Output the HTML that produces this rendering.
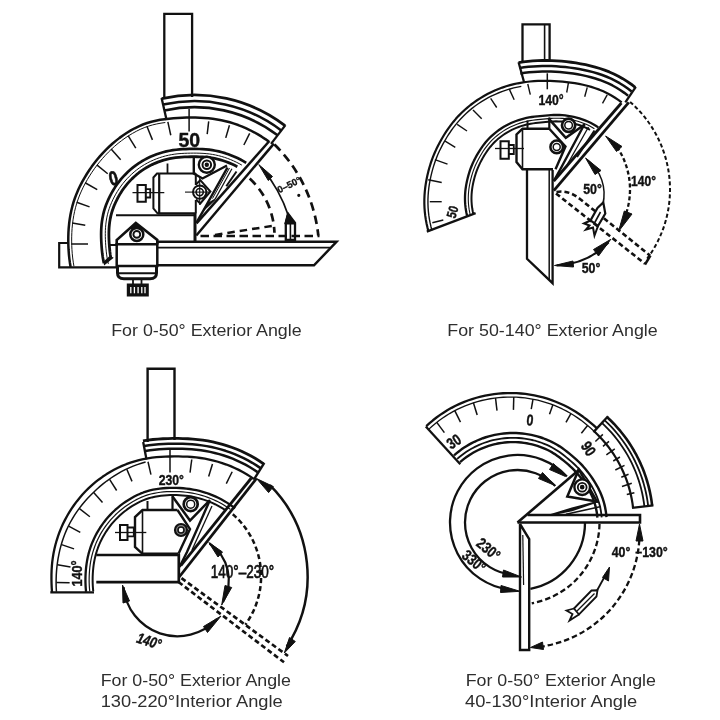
<!DOCTYPE html>
<html lang="en"><head><meta charset="utf-8"><title>Protractor angle diagrams</title>
<style>
html,body{margin:0;padding:0;background:#fff;}
body{width:720px;height:720px;overflow:hidden;font-family:"Liberation Sans",sans-serif;}
svg{display:block;}
</style></head>
<body>
<svg width="720" height="720" viewBox="0 0 720 720" fill="none" stroke="#111" stroke-linecap="butt" stroke-linejoin="miter" style="filter:blur(0.45px)">
<rect x="0" y="0" width="720" height="720" fill="#fff" stroke="none"/>
<g id="d1">
<path d="M164.3 98L164.3 13.8L192.1 13.8L192.1 97" stroke-width="2.3" />
<path d="M161.74 98.65 A149 149 0 0 1 285 125.63" stroke-width="2.8" />
<path d="M163.08 104.6 A142.9 142.9 0 0 1 281.29 130.48" stroke-width="2.6" />
<path d="M164.43 110.55 A136.8 136.8 0 0 1 277.59 135.32" stroke-width="2.6" />
<path d="M166.58 120.11L161.59 97.96" stroke-width="2.3" />
<path d="M271.03 143.9L285.42 125.08" stroke-width="2.3" />
<path d="M70.61 266.96L69.89 262.67L69.31 258.36L68.87 254.03L68.56 249.69L68.36 245.34L68.27 240.98L68.3 236.62L68.44 232.25L68.72 227.88L69.14 223.51L69.71 219.15L70.44 214.81L71.32 210.49L72.38 206.21L73.61 201.96L75.02 197.77L76.6 193.64L78.35 189.57L80.25 185.57L82.3 181.64L84.48 177.78L86.78 173.98L89.2 170.27L91.73 166.62L94.39 163.05L97.15 159.57L100.02 156.16L103 152.85L106.1 149.63L109.31 146.52L112.63 143.52L116.06 140.64L119.59 137.88L123.23 135.25L126.97 132.77L130.81 130.43L134.75 128.26L138.79 126.29L142.93 124.52L147.15 123L151.46 121.72L155.82 120.68L160.22 119.85L164.63 119.18L169.05 118.66L173.46 118.25L177.86 117.94L182.24 117.73L186.62 117.6L191 117.55L195.36 117.58L199.73 117.7L204.09 117.93L208.44 118.28L212.78 118.77L217.1 119.41L221.4 120.21L225.67 121.18L229.89 122.31L234.08 123.6L238.21 125.04L242.28 126.64L246.29 128.38L250.24 130.26L254.12 132.27L257.93 134.42L261.67 136.69L265.32 139.09L268.89 141.62" stroke-width="2.5" stroke-linejoin="round" />
<path d="M73.95 266.34L73.25 262.17L72.69 257.98L72.26 253.77L71.95 249.55L71.76 245.31L71.67 241.08L71.69 236.83L71.83 232.58L72.09 228.33L72.5 224.08L73.04 219.84L73.74 215.62L74.6 211.41L75.62 207.24L76.81 203.11L78.18 199.03L79.71 195.01L81.41 191.05L83.26 187.16L85.25 183.33L87.37 179.57L89.6 175.88L91.95 172.26L94.42 168.71L97 165.23L99.68 161.84L102.47 158.52L105.37 155.29L108.38 152.16L111.5 149.12L114.72 146.2L118.06 143.39L121.5 140.7L125.03 138.14L128.67 135.72L132.41 133.44L136.24 131.32L140.17 129.39L144.2 127.68L148.31 126.19L152.5 124.95L156.75 123.94L161.03 123.14L165.33 122.5" stroke-width="1" stroke-linejoin="round" />
<path d="M103.9 263.26L103.26 260.12L102.73 256.97L102.3 253.8L101.95 250.62L101.67 247.42L101.45 244.21L101.27 241L101.16 237.76L101.12 234.51L101.16 231.25L101.31 227.97L101.57 224.7L101.95 221.42L102.47 218.15L103.12 214.89L103.91 211.66L104.85 208.46L105.94 205.3L107.16 202.19L108.5 199.12L109.96 196.1L111.53 193.13L113.21 190.21L114.99 187.35L116.89 184.56L118.9 181.84L121.02 179.21L123.25 176.66L125.57 174.2L127.99 171.83L130.5 169.55L133.1 167.38L135.79 165.31L138.56 163.36L141.42 161.54L144.35 159.85L147.34 158.28L150.39 156.83L153.49 155.49L156.63 154.28L159.82 153.2L163.04 152.25L166.29 151.43L169.56 150.74L172.85 150.18L176.15 149.75L179.46 149.42L182.76 149.2L186.06 149.05L189.35 148.97L192.63 148.93L195.92 148.93L199.2 148.99L202.48 149.13L205.76 149.35L209.04 149.68L212.31 150.13L215.56 150.71L218.79 151.4L221.99 152.22L225.17 153.16L228.31 154.22L231.4 155.39L234.46 156.67L237.47 158.06L240.44 159.55L243.35 161.15L246.2 162.85" stroke-width="2.7" stroke-linejoin="round" />
<path d="M108.36 263.89L107.7 260.92L107.14 257.93L106.68 254.92L106.3 251.9L106 248.87L105.75 245.82L105.56 242.77L105.41 239.7L105.32 236.61L105.3 233.51L105.37 230.4L105.54 227.28L105.83 224.15L106.23 221.03L106.76 217.91L107.42 214.82L108.23 211.75L109.18 208.71L110.26 205.72L111.47 202.76L112.79 199.85L114.22 196.99L115.75 194.17L117.39 191.41L119.13 188.71L120.98 186.07L122.93 183.5L124.99 181.02L127.15 178.62L129.4 176.31L131.74 174.08L134.16 171.94L136.67 169.91L139.27 167.98L141.94 166.17L144.69 164.48L147.51 162.91L150.39 161.45L153.32 160.12L156.29 158.89L159.31 157.79L162.36 156.8L165.44 155.95L168.55 155.22L171.68 154.61L174.82 154.13L177.97 153.76L181.12 153.5L184.26 153.32L187.4 153.21L190.53 153.15L193.66 153.12L196.79 153.14L199.91 153.22L203.04 153.36L206.17 153.6L209.29 153.94L212.39 154.4L215.49 154.97L218.56 155.66L221.6 156.47L224.62 157.39L227.6 158.43L230.54 159.57L233.45 160.81L236.31 162.16L239.12 163.6L241.88 165.15" stroke-width="1" stroke-linejoin="round" />
<path d="M110.68 257.28L110.24 254.39L109.88 251.5L109.59 248.59L109.35 245.67L109.15 242.74L109 239.8L108.9 236.84L108.88 233.86L108.93 230.87L109.08 227.87L109.35 224.87L109.72 221.87L110.22 218.88L110.85 215.9L111.62 212.95L112.52 210.03L113.56 207.15L114.72 204.31L115.98 201.52L117.35 198.77L118.82 196.06L120.39 193.4L122.06 190.8L123.83 188.26L125.7 185.8L127.68 183.41L129.75 181.11L131.92 178.88L134.16 176.74L136.5 174.68L138.91 172.73L141.4 170.87L143.97 169.14L146.62 167.52L149.33 166.01L152.1 164.62L154.92 163.34L157.78 162.17L160.68 161.12L163.61 160.18L166.57 159.37L169.56 158.67L172.57 158.1L175.59 157.65L178.61 157.3L181.64 157.06L184.66 156.9L187.67 156.8L190.68 156.74L193.68 156.72L196.68 156.74L199.68 156.81L202.68 156.95L205.68 157.17L208.68 157.49L211.66 157.93L214.63 158.47L217.58 159.13L220.51 159.9L223.4 160.78L226.27 161.77L229.09 162.87L231.88 164.06L234.63 165.35L237.33 166.73" stroke-width="2.8" stroke-linejoin="round" />
<path d="M110 256.5L112.6 257.8L104.5 264.5L104 262Z" stroke-width="1.2" fill="#111"/>
<path d="M88 244L71.32 244" stroke-width="1.5" />
<path d="M85.26 225.23L72.22 222.99" stroke-width="1.5" />
<path d="M89.58 206.84L76.65 202.27" stroke-width="1.5" />
<path d="M97.23 189.53L85.11 182.74" stroke-width="1.5" />
<path d="M107.71 173.72L96.78 164.86" stroke-width="1.5" />
<path d="M120.64 159.77L111.12 148.93" stroke-width="1.5" />
<path d="M135.79 148.2L128.08 135.62" stroke-width="1.5" />
<path d="M152.43 139.87L146.92 126.24" stroke-width="1.5" />
<path d="M170.78 135.22L167.85 121.79" stroke-width="1.5" />
<path d="M207.21 134.18L208.7 121.31" stroke-width="1.5" />
<path d="M225.75 137.84L229.44 125.3" stroke-width="1.5" />
<path d="M243.86 144.99L249.68 133.33" stroke-width="1.5" />
<path d="M189.1 109L189.1 131.5" stroke-width="1.5" />
<text x="189.3" y="146.6" font-size="19.5" font-weight="bold" text-anchor="middle" font-family='"Liberation Sans", sans-serif' stroke="#111" stroke-width="0.4" fill="#111" >50</text>
<g transform="translate(113.3 178.2) rotate(-14) scale(0.8 1)"><text x="0" y="7" font-size="20" font-weight="bold" text-anchor="middle" font-family='"Liberation Sans", sans-serif' fill="#111" stroke="#111" stroke-width="0.7">0</text></g>
<path d="M196.3 235.5L273.9 143.6" stroke-width="2.5" />
<path d="M196.5 223.3L269.4 141" stroke-width="2.5" />
<path d="M69 243L59.2 243L59.2 267.3L117 267.3" stroke-width="2.2" />
<path d="M110 245L117 245" stroke-width="2" />
<path d="M157 241.8L336.5 241.8L314 265.3L157 265.3" stroke-width="2.5" />
<path d="M157 247.7L330 247.7" stroke-width="1.8" />
<path d="M116 215.2L195 215.2" stroke-width="2" />
<path d="M195 213L195 241.5" stroke-width="3" />
<path d="M159.2 173.5L195.8 173.5" stroke-width="2.2" />
<path d="M159.2 173.5L159.2 213.3L195.8 213.3" stroke-width="2.2" />
<path d="M159.2 173.5L157 173.5L153.4 177.5L153.4 208.5L157.5 213.3L159.2 213.3" stroke-width="2" />
<path d="M167.5 163.5L167.5 173.5" stroke-width="1.8" />
<path d="M137.5 185L145.8 185L145.8 201.7L137.5 201.7Z" stroke-width="2" />
<path d="M145.8 189.2L150.2 189.2L150.2 197.5L145.8 197.5" stroke-width="1.8" />
<path d="M132.5 192.6L164.3 192.6" stroke-width="1.3" />
<circle cx="199.7" cy="192.1" r="6.7" stroke-width="2" />
<circle cx="199.7" cy="192.1" r="3.6" stroke-width="1.6" />
<path d="M185 192.1L210 192.1" stroke-width="1.1" />
<path d="M199.7 177L199.7 205" stroke-width="1.1" />
<path d="M195.8 184.5L200.3 180.2L210.4 191.5L200.3 203.5L196 199.5" stroke-width="2" />
<path d="M195.8 173.5L195.8 185" stroke-width="2" />
<path d="M195.8 200L195.8 213.3" stroke-width="2" />
<path d="M193.8 157L193.8 173.5L202.5 178.5L227 165.5" stroke-width="2.4" />
<circle cx="206.8" cy="164.8" r="8" stroke-width="2.4" fill="#fff"/>
<circle cx="206.8" cy="164.8" r="4.3" stroke-width="2" />
<circle cx="206.8" cy="164.8" r="1.4" stroke-width="1.6" fill="#111"/>
<path d="M196.5 222.5L203.7 210L227.5 167.5" stroke-width="2.5" />
<path d="M203.7 210L215 199.4L209 203Z" stroke-width="1.5" fill="#111"/>
<path d="M215 199.4L231.9 168.8" stroke-width="1.2" />
<path d="M212.5 198.5L229.5 168" stroke-width="1" />
<path d="M226.3 186.3L236.5 171.5" stroke-width="2" />
<path d="M116.7 244.5L116.7 240L135.8 223L157.3 240L157.3 244.5" stroke-width="2.6" fill="#fff"/>
<path d="M130.5 228.5L135.8 223.3L142.5 228.5Z" stroke-width="1" fill="#111"/>
<circle cx="136.8" cy="234.4" r="6.5" stroke-width="2.5" fill="#fff"/>
<circle cx="136.8" cy="234.4" r="3.4" stroke-width="1.9" fill="#fff"/>
<path d="M116.7 244.3L157.3 244.3L157.3 266L116.7 266Z" stroke-width="2.5" />
<path d="M117.5 266 L117.5 273 Q117.5 278.8 124 278.8 L150 278.8 Q156.5 278.8 156.5 273 L156.5 266" stroke-width="3"/>
<path d="M117.5 273.2L156.5 273.2" stroke-width="2" />
<path d="M133 280L133 284" stroke-width="1.8" />
<path d="M141.5 280L141.5 284" stroke-width="1.8" />
<path d="M127.8 284.6L147.8 284.6L147.8 295.6L127.8 295.6Z" stroke-width="2" fill="#111"/>
<path d="M130.8 287L130.8 293.3" stroke-width="1.3" stroke="#fff"/>
<path d="M134.4 287L134.4 293.3" stroke-width="1.3" stroke="#fff"/>
<path d="M138.1 287L138.1 293.3" stroke-width="1.3" stroke="#fff"/>
<path d="M141.8 287L141.8 293.3" stroke-width="1.3" stroke="#fff"/>
<path d="M145 287L145 293.3" stroke-width="1.3" stroke="#fff"/>
<path d="M274.5 144.5 A149.18 149.18 0 0 1 318.3 235.5" stroke-width="2.7" stroke-dasharray="8.5 5.3"/>
<path d="M249.7 178.45 A78 78 0 0 1 274.45 232.78" stroke-width="2.7" stroke-dasharray="8.5 5.3"/>
<path d="M200.5 236L319.5 236" stroke-width="2.7" stroke-dasharray="8.5 4.5"/>
<path d="M215 235L274.5 225.5" stroke-width="2.5" stroke-dasharray="7.5 5"/>
<path d="M262 168 A147.39 147.39 0 0 1 288.5 216" stroke-width="1.7" />
<path d="M258.8 164.6L272.5 176.5L268.3 180.5Z" stroke-width="1" fill="#111"/>
<path d="M288.3 214L285.8 223L285.8 240L295 240L295 223Z" stroke-width="2.3" />
<path d="M290.4 224L290.4 240" stroke-width="1.6" />
<path d="M287.6 212.5L284.8 224L295.5 224Z" stroke-width="1" fill="#111"/>
<text x="290.5" y="187.8" font-size="9.5" font-weight="bold" text-anchor="middle" font-family='"Liberation Sans", sans-serif' fill="#111" transform="rotate(-26 290.5 187.8)" stroke="#111" stroke-width="0.3">0–50°</text>
<circle cx="298.8" cy="195.3" r="1" stroke-width="1.2" fill="#111"/>
</g>
<g id="d2">
<path d="M522.5 63L522.5 24.3L549.6 24.3L549.6 61" stroke-width="2.3" />
<path d="M544.6 24.3L544.6 61" stroke-width="1.6" />
<path d="M518.58 62.54L523.3 61.84L528.04 61.3L532.8 60.9L537.57 60.64L542.34 60.51L547.13 60.51L551.92 60.63L556.71 60.87L561.51 61.22L566.31 61.68L571.12 62.25L575.94 62.94L580.75 63.76L585.57 64.71L590.37 65.81L595.16 67.07L599.92 68.49L604.64 70.1L609.31 71.92L613.9 73.94L618.4 76.2L622.78 78.67L627.05 81.35L631.2 84.23L635.21 87.3" stroke-width="2.8" stroke-linejoin="round" />
<path d="M519.47 67.97L524.01 67.3L528.56 66.77L533.13 66.39L537.7 66.14L542.29 66.01L546.88 66.01L551.48 66.12L556.09 66.33L560.69 66.66L565.31 67.09L569.93 67.62L574.56 68.27L579.19 69.03L583.82 69.93L588.45 70.96L593.06 72.15L597.64 73.5L602.19 75.03L606.69 76.75L611.11 78.69L615.45 80.84L619.67 83.21L623.79 85.78L627.78 88.54L631.65 91.49" stroke-width="2.5" stroke-linejoin="round" />
<path d="M520.37 73.4L524.72 72.75L529.08 72.25L533.45 71.88L537.84 71.64L542.24 71.51L546.64 71.5L551.05 71.6L555.46 71.8L559.88 72.1L564.31 72.5L568.74 72.99L573.18 73.59L577.63 74.31L582.08 75.14L586.52 76.12L590.95 77.23L595.37 78.5L599.74 79.95L604.07 81.59L608.33 83.43L612.5 85.48L616.56 87.74L620.52 90.2L624.36 92.85L628.08 95.68" stroke-width="2.5" stroke-linejoin="round" />
<path d="M518.6 62.3L524 82" stroke-width="2.3" />
<path d="M635.8 86.8L625.3 102.3" stroke-width="2.3" />
<path d="M428.52 231.53L427.48 227.6L426.59 223.64L425.83 219.65L425.23 215.64L424.78 211.61L424.48 207.57L424.34 203.53L424.35 199.49L424.51 195.45L424.82 191.43L425.26 187.42L425.84 183.44L426.54 179.48L427.36 175.55L428.29 171.65L429.34 167.79L430.5 163.95L431.78 160.16L433.19 156.42L434.72 152.72L436.37 149.08L438.13 145.49L439.99 141.95L441.95 138.46L444.01 135.02L446.16 131.65L448.42 128.33L450.79 125.09L453.26 121.92L455.86 118.84L458.57 115.86L461.39 112.98L464.32 110.21L467.36 107.55L470.49 105L473.72 102.57L477.04 100.26L480.44 98.07L483.91 95.99L487.46 94.05L491.08 92.23L494.77 90.55L498.51 89L502.3 87.59L506.15 86.31L510.04 85.17L513.96 84.17L517.92 83.3L521.9 82.57L525.91 81.98L529.93 81.51L533.97 81.17L538.02 80.94L542.07 80.82L546.13 80.79L550.2 80.87L554.28 81.03L558.36 81.29L562.45 81.63L566.55 82.05L570.66 82.57L574.78 83.19L578.9 83.92L583.02 84.77L587.14 85.76L591.24 86.89L595.31 88.18L599.34 89.65L603.3 91.3L607.18 93.16L610.98 95.22L614.67 97.47L618.25 99.9L621.71 102.49" stroke-width="2.2" stroke-linejoin="round" />
<path d="M431.97 230.5L430.97 226.72L430.11 222.9L429.39 219.06L428.8 215.2L428.37 211.32L428.08 207.43L427.94 203.53L427.94 199.64L428.1 195.75L428.39 191.87L428.81 188.02L429.36 184.18L430.03 180.37L430.82 176.58L431.71 172.83L432.71 169.1L433.82 165.41L435.04 161.75L436.38 158.14L437.84 154.58L439.42 151.06L441.1 147.6L442.88 144.18L444.75 140.82L446.71 137.5L448.77 134.24L450.92 131.03L453.18 127.89L455.54 124.83L458.02 121.85L460.6 118.95L463.29 116.16L466.09 113.46L469 110.87L472 108.4L475.09 106.03L478.26 103.78L481.52 101.64L484.85 99.61L488.25 97.71L491.72 95.92L495.25 94.27L498.84 92.74L502.48 91.35L506.17 90.08L509.91 88.95L513.68 87.94L517.48 87.07L521.31 86.32" stroke-width="1.4" stroke-linejoin="round" />
<path d="M426.8 231.6L475.6 213.2" stroke-width="2.3" />
<path d="M467.05 215.7L466.46 213.04L465.96 210.35L465.57 207.65L465.27 204.94L465.08 202.23L464.99 199.51L465 196.8L465.11 194.09L465.32 191.39L465.62 188.71L466.02 186.05L466.49 183.4L467.04 180.78L467.65 178.17L468.33 175.59L469.08 173.02L469.91 170.48L470.81 167.97L471.79 165.49L472.86 163.05L473.99 160.63L475.2 158.25L476.46 155.9L477.79 153.59L479.17 151.3L480.62 149.05L482.15 146.84L483.74 144.68L485.42 142.58L487.18 140.53L489.01 138.56L490.92 136.65L492.91 134.82L494.97 133.07L497.1 131.39L499.28 129.8L501.53 128.28L503.83 126.84L506.18 125.49L508.58 124.23L511.03 123.05L513.52 121.97L516.05 120.99L518.62 120.09L521.21 119.29L523.84 118.58L526.48 117.96L529.15 117.44L531.83 117L534.52 116.64L537.22 116.34L539.93 116.08L542.65 115.83L545.39 115.59L548.15 115.36L550.93 115.16L553.74 115.02L556.57 114.96L559.42 115.01L562.28 115.16L565.15 115.43L568.02 115.81L570.88 116.29L573.74 116.89L576.6 117.6L579.43 118.41L582.25 119.33L585.05 120.36L587.81 121.51L590.54 122.78L593.2 124.18L595.8 125.72L598.3 127.41" stroke-width="2.3" stroke-linejoin="round" />
<path d="M470.23 214.82L469.66 212.25L469.19 209.67L468.82 207.07L468.54 204.46L468.36 201.86L468.28 199.24L468.3 196.64L468.41 194.04L468.63 191.45L468.93 188.87L469.31 186.31L469.78 183.77L470.31 181.25L470.91 178.75L471.57 176.27L472.29 173.81L473.09 171.37L473.96 168.96L474.91 166.58L475.94 164.24L477.04 161.92L478.2 159.64L479.42 157.39L480.69 155.16L482.02 152.96L483.42 150.8L484.88 148.68L486.42 146.61L488.03 144.59L489.72 142.63L491.49 140.73L493.33 138.91L495.25 137.15L497.23 135.48L499.28 133.87L501.39 132.35L503.56 130.9L505.77 129.53L508.04 128.24L510.35 127.03L512.71 125.92L515.11 124.89L517.55 123.95L520.02 123.11L522.52 122.35L525.04 121.68L527.58 121.1L530.15 120.61L532.73 120.2L535.32 119.87L537.91 119.59L540.52 119.33L543.14 119.09L545.77 118.84L548.43 118.61L551.12 118.41L553.83 118.27L556.56 118.21L559.31 118.26L562.07 118.41L564.83 118.67L567.6 119.04L570.37 119.51L573.13 120.09L575.88 120.78L578.62 121.57L581.34 122.47L584.04 123.48L586.71 124.6L589.33 125.84L591.9 127.21L594.39 128.73" stroke-width="1.1" stroke-linejoin="round" />
<path d="M473.31 213.96L472.77 211.5L472.33 209.02L471.97 206.54L471.71 204.04L471.54 201.54L471.47 199.04L471.5 196.55L471.61 194.06L471.82 191.58L472.12 189.12L472.49 186.67L472.94 184.24L473.46 181.83L474.03 179.44L474.67 177.06L475.37 174.71L476.13 172.38L476.96 170.07L477.87 167.8L478.86 165.56L479.91 163.34L481.01 161.16L482.18 159L483.39 156.87L484.66 154.77L486 152.7L487.39 150.67L488.86 148.68L490.4 146.74L492.01 144.87L493.7 143.05L495.46 141.3L497.29 139.61L499.19 138.01L501.15 136.47L503.17 135.01L505.24 133.62L507.36 132.31L509.53 131.07L511.74 129.91L514 128.85L516.3 127.86L518.63 126.97L520.99 126.16L523.39 125.43L525.8 124.79L528.24 124.23L530.69 123.76L533.16 123.37L535.64 123.05L538.13 122.78L540.62 122.53L543.13 122.29L545.65 122.04L548.2 121.8L550.77 121.59L553.37 121.44L555.99 121.36L558.63 121.39L561.28 121.51L563.94 121.74L566.6 122.08L569.26 122.52L571.92 123.06L574.57 123.7L577.21 124.45L579.83 125.29L582.43 126.25L585.01 127.31L587.54 128.49L590.01 129.8" stroke-width="2" stroke-linejoin="round" />
<path d="M432.33 222.74L443.3 220" stroke-width="1.4" />
<path d="M429.8 201.7L441.7 201.7" stroke-width="1.4" />
<path d="M428.22 179.8L441.7 182.5" stroke-width="1.4" />
<path d="M434.86 159.66L447.5 164.2" stroke-width="1.4" />
<path d="M445.14 141.18L455.3 147.3" stroke-width="1.4" />
<path d="M457.17 124.45L467 131" stroke-width="1.4" />
<path d="M472.99 110.1L481.7 118.7" stroke-width="1.4" />
<path d="M490.65 98.37L496.7 107.5" stroke-width="1.4" />
<path d="M509.28 89.09L514.2 99.7" stroke-width="1.4" />
<path d="M527.77 84.03L530.3 94.7" stroke-width="1.4" />
<path d="M568.48 82.72L566.7 92.5" stroke-width="1.4" />
<path d="M587.26 87.34L584.7 96.7" stroke-width="1.4" />
<path d="M607.19 94.93L602.5 103.3" stroke-width="1.4" />
<path d="M547.3 73.3L547.3 89.3" stroke-width="1.5" />
<g transform="translate(551 104.8) scale(0.81 1)"><text x="0" y="0" font-size="15" font-weight="bold" text-anchor="middle" font-family='"Liberation Sans", sans-serif' stroke="#111" stroke-width="0.4" fill="#111" >140°</text></g>
<g transform="translate(457 213.3) rotate(-74) scale(0.8 1)"><text x="0" y="0" font-size="13.5" font-weight="bold" text-anchor="middle" font-family='"Liberation Sans", sans-serif' stroke="#111" stroke-width="0.4" fill="#111" >50</text></g>
<path d="M527 170L527 258.8L552.6 283.2L552.6 170" stroke-width="2.3" />
<path d="M549.2 170L549.2 279.5" stroke-width="1.5" />
<path d="M549.6 128.8L522.5 128.8L516.5 134.5L516.5 162L522.5 169.3L553 169.3" stroke-width="2.4" />
<path d="M522.5 128.8L522.5 169.3" stroke-width="1.6" />
<path d="M527.5 120.5L527.5 128.8" stroke-width="2" />
<path d="M549.3 117.5L549.3 128.8" stroke-width="2.2" />
<path d="M500.5 141.3L508.8 141.3L508.8 158.8L500.5 158.8Z" stroke-width="2" />
<path d="M508.8 145L513.8 145L513.8 154L508.8 154" stroke-width="1.8" />
<path d="M495 148.5L524 148.5" stroke-width="1.3" />
<path d="M548.5 118.3L565.8 137.8L585 124.3" stroke-width="2.5" />
<path d="M549.5 129L565.5 146.5L555.5 169.3" stroke-width="2.4" />
<circle cx="568.6" cy="125.3" r="6.6" stroke-width="2.7" fill="#fff"/>
<circle cx="568.6" cy="125.3" r="3.8" stroke-width="1.5" />
<circle cx="556.7" cy="146.9" r="6.3" stroke-width="2.5" fill="#fff"/>
<circle cx="556.7" cy="146.9" r="3.5" stroke-width="1.5" />
<path d="M553.8 190.6L628.8 102.3" stroke-width="2.8" />
<path d="M553.8 181L621.4 103" stroke-width="2.8" />
<path d="M553.8 181L561 168L583.5 126" stroke-width="2.4" />
<path d="M567 165L588.5 127" stroke-width="1.3" />
<path d="M577 157L594.5 130.5" stroke-width="2" />
<path d="M630.1 101.95 A116 116 0 0 1 646.64 259.31" stroke-width="2" stroke-dasharray="4 2.5"/>
<path d="M556 193.5 L645 263.8" stroke-width="2.6" stroke-dasharray="5 3"/>
<path d="M556.5 192 Q568 189.5 580 199 L650 255.5" stroke-width="2.6" stroke-dasharray="5 3"/>
<path d="M645 264.5L650.5 255.5" stroke-width="2.4" />
<path d="M617.01 147 A76 76 0 0 1 619.82 227.5" stroke-width="2.3" stroke-dasharray="4 2.5"/>
<path d="M605.6 136L622 146.5L616.5 151.5Z" stroke-width="1" fill="#111"/>
<path d="M618.5 231.5L624.3 211L632 214Z" stroke-width="1" fill="#111"/>
<g transform="translate(643.5 185.5) scale(0.78 1)"><text x="0" y="0" font-size="15.5" font-weight="bold" text-anchor="middle" font-family='"Liberation Sans", sans-serif' stroke="#111" stroke-width="0.4" fill="#111" >140°</text></g>
<path d="M587 159.5 A43.48 43.48 0 0 1 602.7 205" stroke-width="1.5" />
<path d="M585.6 158L601 170.5L595 174.5Z" stroke-width="1" fill="#111"/>
<g transform="translate(592.5 194) scale(0.8 1)"><text x="0" y="0" font-size="15.5" font-weight="bold" text-anchor="middle" font-family='"Liberation Sans", sans-serif' stroke="#111" stroke-width="0.4" fill="#111" >50°</text></g>
<path d="M603.3 202.5L605.3 213.5L598 226L590.5 220.5L597.5 208Z" stroke-width="2.2" fill="#fff"/>
<path d="M600.5 212L594.5 223" stroke-width="1.6" />
<path d="M590.5 220.5L584 223.5L589.5 225.5L586 229.5L593 227.5L594.5 235.5L598 226" stroke-width="2" />
<path d="M556.65 265.45 A76 76 0 0 0 608.67 242.29" stroke-width="2.1" />
<path d="M554.5 265.5L573 261L573.5 267Z" stroke-width="1" fill="#111"/>
<path d="M610.8 239.3L593.5 249.5L598.5 256Z" stroke-width="1" fill="#111"/>
<g transform="translate(591 273) scale(0.8 1)"><text x="0" y="0" font-size="15.5" font-weight="bold" text-anchor="middle" font-family='"Liberation Sans", sans-serif' stroke="#111" stroke-width="0.4" fill="#111" >50°</text></g>
</g>
<g id="d3">
<path d="M147.6 442L147.6 368.8L174.5 368.8L174.5 440" stroke-width="2.4" />
<path d="M142.96 440.89L147.93 440.1L152.93 439.49L157.93 439.05L162.92 438.75L167.92 438.57L172.91 438.47L177.9 438.46L182.89 438.54L187.88 438.73L192.87 439.06L197.86 439.53L202.84 440.16L207.8 440.96L212.73 441.92L217.64 443.06L222.52 444.36L227.35 445.84L232.13 447.49L236.86 449.31L241.52 451.31L246.12 453.47L250.64 455.8L255.07 458.31L259.4 460.98L263.63 463.83" stroke-width="2.8" stroke-linejoin="round" />
<path d="M144.15 446.06L148.95 445.3L153.76 444.73L158.58 444.31L163.4 444.03L168.21 443.86L173.02 443.77L177.83 443.76L182.64 443.83L187.45 444.02L192.26 444.32L197.07 444.77L201.86 445.37L206.65 446.13L211.41 447.05L216.14 448.14L220.84 449.39L225.5 450.81L230.12 452.39L234.68 454.14L239.18 456.06L243.61 458.14L247.97 460.38L252.25 462.79L256.43 465.37L260.51 468.11" stroke-width="2.5" stroke-linejoin="round" />
<path d="M145.28 450.93L149.91 450.21L154.55 449.66L159.2 449.27L163.85 449.01L168.49 448.85L173.13 448.77L177.77 448.76L182.4 448.83L187.04 449L191.68 449.29L196.32 449.71L200.95 450.29L205.56 451.01L210.16 451.89L214.72 452.93L219.26 454.13L223.76 455.49L228.22 457.02L232.62 458.7L236.96 460.54L241.25 462.54L245.46 464.7L249.58 467.02L253.62 469.51L257.56 472.15" stroke-width="2.5" stroke-linejoin="round" />
<path d="M143.2 442L146.5 459.5" stroke-width="2.3" />
<path d="M264.28 462.94L254.14 479.17" stroke-width="2.4" />
<path d="M52 592.02L51.72 587.74L51.54 583.45L51.45 579.16L51.46 574.85L51.59 570.53L51.85 566.21L52.26 561.89L52.82 557.58L53.54 553.28L54.41 549L55.44 544.75L56.63 540.53L57.97 536.35L59.46 532.21L61.11 528.12L62.91 524.09L64.87 520.13L66.96 516.23L69.2 512.4L71.59 508.65L74.1 504.99L76.76 501.41L79.55 497.93L82.46 494.56L85.51 491.29L88.68 488.13L91.97 485.11L95.38 482.21L98.91 479.45L102.54 476.83L106.27 474.34L110.09 472L114 469.81L117.99 467.77L122.06 465.9L126.2 464.2L130.4 462.68L134.66 461.32L138.97 460.15L143.31 459.14L147.69 458.32L152.09 457.67L156.5 457.2L160.92 456.87L165.33 456.65L169.73 456.52L174.13 456.46L178.53 456.46L182.93 456.54L187.33 456.72L191.74 457.01L196.14 457.43L200.53 458L204.9 458.71L209.26 459.57L213.6 460.58L217.9 461.74L222.17 463.06L226.39 464.54L230.56 466.17L234.68 467.95L238.73 469.88L242.71 471.97L246.61 474.21L250.43 476.61L254.14 479.17" stroke-width="2.3" stroke-linejoin="round" />
<path d="M56.43 591.73L56.2 587.57L56.1 583.4L56.13 579.23L56.27 575.06L56.54 570.89L56.93 566.73L57.45 562.57L58.1 558.42L58.88 554.29L59.79 550.18L60.84 546.1L62.03 542.05L63.37 538.03L64.85 534.06L66.48 530.14L68.27 526.28L70.22 522.5L72.31 518.79L74.55 515.16L76.92 511.62L79.43 508.16L82.06 504.79L84.8 501.51L87.65 498.32L90.6 495.22L93.65 492.2L96.79 489.27L100.01 486.43L103.33 483.68L106.74 481.03L110.25 478.5L113.85 476.09L117.54 473.81L121.32 471.66L125.18 469.66L129.13 467.82L133.15 466.13L137.24 464.6L141.39 463.24L145.59 462.04" stroke-width="1.5" stroke-linejoin="round" />
<path d="M50.3 592.3L94 592.3" stroke-width="2.3" />
<path d="M86.07 591.87L85.78 588.75L85.58 585.63L85.47 582.49L85.44 579.35L85.5 576.2L85.65 573.05L85.88 569.89L86.2 566.74L86.61 563.58L87.12 560.43L87.74 557.29L88.48 554.17L89.33 551.07L90.3 547.99L91.38 544.94L92.57 541.93L93.88 538.95L95.29 536.02L96.81 533.13L98.45 530.3L100.19 527.52L102.04 524.81L103.99 522.16L106.04 519.58L108.19 517.06L110.42 514.63L112.75 512.26L115.16 509.98L117.66 507.79L120.24 505.68L122.9 503.66L125.63 501.73L128.44 499.91L131.31 498.18L134.25 496.56L137.26 495.06L140.33 493.69L143.46 492.45L146.65 491.38L149.89 490.46L153.17 489.7L156.47 489.09L159.8 488.62L163.13 488.26L166.47 488.02L169.81 487.88L173.14 487.84L176.48 487.89L179.8 488.02L183.12 488.24L186.43 488.56L189.73 488.99L193.01 489.52L196.28 490.17L199.52 490.92L202.73 491.8L205.9 492.78L209.05 493.87L212.15 495.07L215.21 496.37L218.22 497.78L221.18 499.3L224.09 500.91L226.94 502.63L229.72 504.44L232.45 506.35L235.1 508.35" stroke-width="2.3" stroke-linejoin="round" />
<path d="M89.75 591.55L89.48 588.56L89.28 585.56L89.17 582.55L89.14 579.54L89.19 576.52L89.32 573.5L89.53 570.47L89.83 567.44L90.21 564.41L90.69 561.38L91.28 558.37L91.98 555.37L92.79 552.38L93.71 549.43L94.74 546.5L95.87 543.6L97.12 540.74L98.47 537.91L99.92 535.14L101.49 532.41L103.16 529.74L104.93 527.13L106.79 524.58L108.76 522.09L110.81 519.67L112.96 517.32L115.19 515.05L117.51 512.85L119.9 510.73L122.38 508.7L124.93 506.75L127.55 504.9L130.25 503.14L133.01 501.47L135.84 499.91L138.72 498.46L141.68 497.13L144.69 495.94L147.75 494.91L150.87 494.03L154.02 493.3L157.2 492.72L160.4 492.27L163.61 491.93L166.82 491.7L170.03 491.58L173.24 491.54L176.44 491.59L179.64 491.71L182.83 491.93L186.01 492.24L189.18 492.65L192.34 493.16L195.48 493.78L198.59 494.51L201.68 495.34L204.73 496.29L207.75 497.33L210.73 498.49L213.68 499.74L216.57 501.09L219.42 502.55L222.21 504.1L224.95 505.75L227.63 507.49L230.25 509.33" stroke-width="1.2" stroke-linejoin="round" />
<path d="M93.24 591.24L92.97 588.37L92.78 585.5L92.67 582.61L92.63 579.72L92.67 576.82L92.79 573.92L92.99 571.01L93.27 568.1L93.62 565.19L94.08 562.28L94.63 559.38L95.29 556.5L96.06 553.63L96.93 550.79L97.91 547.97L99 545.18L100.18 542.43L101.47 539.71L102.87 537.04L104.36 534.41L105.96 531.84L107.65 529.32L109.44 526.86L111.33 524.47L113.3 522.14L115.36 519.87L117.5 517.68L119.72 515.56L122.02 513.52L124.4 511.56L126.85 509.68L129.37 507.89L131.96 506.19L134.62 504.58L137.33 503.07L140.11 501.67L142.95 500.39L145.85 499.25L148.8 498.25L151.8 497.4L154.83 496.71L157.89 496.15L160.97 495.72L164.06 495.4L167.15 495.19L170.24 495.07L173.32 495.04L176.41 495.08L179.48 495.21L182.55 495.42L185.61 495.72L188.67 496.11L191.7 496.6L194.72 497.2L197.71 497.9L200.68 498.7L203.62 499.61L206.53 500.61L209.4 501.72L212.23 502.93L215.01 504.23L217.75 505.63L220.44 507.12L223.08 508.71L225.66 510.38" stroke-width="2" stroke-linejoin="round" />
<path d="M69.6 582.7L56.4 582.54" stroke-width="1.5" />
<path d="M70.49 566.91L57.46 564.8" stroke-width="1.5" />
<path d="M74.06 548.9L61.58 544.6" stroke-width="1.5" />
<path d="M80.27 532.45L68.65 526.2" stroke-width="1.5" />
<path d="M89.88 516.72L79.48 508.59" stroke-width="1.5" />
<path d="M102.52 502.39L93.69 492.58" stroke-width="1.5" />
<path d="M116.65 490.48L109.58 479.34" stroke-width="1.5" />
<path d="M132 481.35L126.8 469.21" stroke-width="1.5" />
<path d="M150.95 474.61L148 461.74" stroke-width="1.5" />
<path d="M190.07 472.59L191.73 459.49" stroke-width="1.5" />
<path d="M208.65 476.55L212.48 463.92" stroke-width="1.5" />
<path d="M226.28 483.59L232.19 471.78" stroke-width="1.5" />
<path d="M170 450L170 472.5" stroke-width="1.5" />
<g transform="translate(171.3 485.2) scale(0.79 1)"><text x="0" y="0" font-size="15.5" font-weight="bold" text-anchor="middle" font-family='"Liberation Sans", sans-serif' stroke="#111" stroke-width="0.4" fill="#111" >230°</text></g>
<g transform="translate(81.5 573.5) rotate(-90) scale(0.84 1)"><text x="0" y="0" font-size="15" font-weight="bold" text-anchor="middle" font-family='"Liberation Sans", sans-serif' stroke="#111" stroke-width="0.4" fill="#111" >140°</text></g>
<path d="M96.3 555L178.8 555L178.8 582.2L96.3 582.2" stroke-width="2.7" />
<path d="M177.5 510L142.5 510L135 517L135 547L142.5 553.8L178 553.8" stroke-width="2.4" />
<path d="M142.5 510L142.5 553.8" stroke-width="1.6" />
<path d="M147.5 501L147.5 510" stroke-width="2" />
<path d="M172.5 496L172.5 510" stroke-width="2.2" />
<path d="M120 525L127.5 525L127.5 540L120 540Z" stroke-width="2" />
<path d="M127.5 527.5L133.8 527.5L133.8 536.3L127.5 536.3" stroke-width="1.8" />
<path d="M115 532.5L146.3 532.5" stroke-width="1.3" />
<path d="M172.5 496.5L190 520.5L210 500" stroke-width="2.5" />
<path d="M177.5 510L190 529L178.5 553.8" stroke-width="2.4" />
<circle cx="190.7" cy="504.2" r="7" stroke-width="2.7" fill="#fff"/>
<circle cx="190.7" cy="504.2" r="4" stroke-width="1.5" />
<circle cx="181" cy="530" r="6" stroke-width="2.2" fill="#888"/>
<circle cx="181" cy="530" r="3" stroke-width="1.6" fill="#fff"/>
<path d="M179.2 577L256.5 478.5" stroke-width="2.8" />
<path d="M180.8 565.6L251.4 478" stroke-width="2.8" />
<path d="M179.5 567L187 552L209.5 501" stroke-width="2.4" />
<path d="M192 550L212 506" stroke-width="1.3" />
<path d="M269.88 485.22 A128.8 128.8 0 0 1 286.82 646.45" stroke-width="2.5" />
<path d="M256.5 478.5L273.4 486.6L268.6 492.6Z" stroke-width="1" fill="#111"/>
<path d="M284.3 653L289.5 637.5L295.3 641.5Z" stroke-width="1" fill="#111"/>
<path d="M232.79 514.19 A82.3 82.3 0 0 1 245.38 624.67" stroke-width="2.5" stroke-dasharray="5 3"/>
<path d="M181.5 578.2L288 656" stroke-width="2.7" stroke-dasharray="5 3"/>
<path d="M178.5 582L284 662.3" stroke-width="2.7" stroke-dasharray="5 3"/>
<path d="M209.5 543.5 A44.32 44.32 0 0 1 223 602" stroke-width="2.2" />
<path d="M208.8 542.5L222.5 552L218 557Z" stroke-width="1" fill="#111"/>
<path d="M221.7 605L225 585.5L231.7 587.5Z" stroke-width="1" fill="#111"/>
<g transform="translate(242.5 578.3) scale(0.75 1)"><text x="0" y="0" font-size="18" font-weight="normal" text-anchor="middle" font-family='"Liberation Sans", sans-serif' fill="#111" stroke="#111" stroke-width="0.7">140°–230°</text></g>
<path d="M123.5 587 A54.09 54.09 0 0 0 217 619" stroke-width="2.3" />
<path d="M122.5 585L129.5 601L123 603Z" stroke-width="1" fill="#111"/>
<path d="M221 616L207.5 632.5L203.5 626.5Z" stroke-width="1" fill="#111"/>
<g transform="translate(147.5 646) rotate(18) scale(0.8 1)"><text x="0" y="0" font-size="15" font-weight="bold" text-anchor="middle" font-family='"Liberation Sans", sans-serif' stroke="#111" stroke-width="0.4" fill="#111" font-style="italic">140°</text></g>
</g>
<g id="d4">
<path d="M426.27 426.12L429.58 423.14L432.99 420.27L436.51 417.52L440.13 414.9L443.84 412.42L447.65 410.08L451.55 407.87L455.53 405.8L459.58 403.88L463.7 402.11L467.89 400.5L472.14 399.04L476.44 397.75L480.78 396.61L485.17 395.63L489.58 394.8L494.03 394.13L498.49 393.62L502.98 393.26L507.47 393.07L511.96 393.05L516.46 393.19L520.94 393.49L525.41 393.96L529.86 394.58L534.29 395.37L538.68 396.31L543.03 397.42L547.33 398.69L551.58 400.12L555.78 401.71L559.91 403.44L563.97 405.32L567.96 407.34L571.88 409.5L575.71 411.8L579.45 414.24L583.1 416.8L586.65 419.49L590.11 422.29L593.47 425.2L596.74 428.21" stroke-width="2.3" stroke-linejoin="round" />
<path d="M428.91 429.13L432.11 426.24L435.41 423.45L438.82 420.79L442.32 418.25L445.92 415.84L449.61 413.56L453.39 411.42L457.24 409.42L461.16 407.55L465.15 405.84L469.21 404.27L473.33 402.86L477.49 401.6L481.7 400.5L485.95 399.55L490.23 398.75L494.54 398.1L498.87 397.6L503.21 397.26L507.56 397.07L511.92 397.05L516.27 397.18L520.62 397.48L524.95 397.93L529.26 398.53L533.55 399.3L537.8 400.21L542.02 401.29L546.19 402.52L550.31 403.91L554.37 405.45L558.37 407.13L562.31 408.96L566.17 410.92L569.96 413.02L573.67 415.25L577.29 417.61L580.82 420.1L584.26 422.7L587.61 425.42L590.87 428.24L594.04 431.16" stroke-width="1.3" stroke-linejoin="round" />
<path d="M425.8 426.5L460.3 464.3" stroke-width="2.3" />
<path d="M454.03 455.34L456.36 453.35L458.76 451.44L461.23 449.61L463.76 447.86L466.34 446.21L468.99 444.64L471.68 443.17L474.43 441.79L477.22 440.51L480.05 439.32L482.92 438.24L485.83 437.25L488.77 436.36L491.74 435.58L494.73 434.9L497.75 434.32L500.78 433.84L503.83 433.47L506.89 433.21L509.95 433.05L513.02 433L516.09 433.05L519.16 433.21L522.22 433.48L525.27 433.85L528.3 434.33L531.32 434.91L534.31 435.59L537.28 436.38L540.22 437.26L543.13 438.25L546 439.34L548.83 440.53L551.61 441.83L554.34 443.23L557.01 444.74L559.62 446.36L562.15 448.08L564.63 449.88L567.06 451.74L569.45 453.65L571.81 455.6L574.13 457.6L576.42 459.64L578.66 461.75L580.84 463.94L582.95 466.19L584.99 468.52L586.96 470.92L588.86 473.38L590.71 475.9L592.49 478.48L594.2 481.12L595.84 483.81L597.4 486.57L598.87 489.39L600.23 492.28L601.47 495.23L602.58 498.23L603.57 501.28L604.41 504.38L605.13 507.52L605.71 510.69L606.16 513.89L606.48 517.1" stroke-width="2.4" stroke-linejoin="round" />
<path d="M457.21 458.94L459.42 457.05L461.69 455.24L464.02 453.51L466.41 451.86L468.86 450.3L471.36 448.82L473.91 447.42L476.51 446.12L479.15 444.91L481.83 443.78L484.54 442.75L487.29 441.82L490.07 440.98L492.88 440.24L495.72 439.59L498.57 439.05L501.44 438.6L504.32 438.25L507.22 438L510.12 437.85L513.02 437.8L515.93 437.85L518.83 438L521.72 438.25L524.61 438.6L527.48 439.05L530.33 439.6L533.16 440.25L535.97 440.99L538.75 441.83L541.5 442.77L544.22 443.8L546.89 444.93L549.53 446.15L552.11 447.48L554.63 448.92L557.1 450.45L559.5 452.08L561.84 453.78L564.13 455.55L566.39 457.35L568.62 459.2L570.83 461.08L573 463.01L575.12 465L577.19 467.06L579.2 469.19L581.13 471.39L583.01 473.65L584.82 475.97L586.58 478.35L588.28 480.79L589.92 483.28L591.49 485.82L592.98 488.43L594.38 491.1L595.68 493.83L596.87 496.62L597.94 499.46L598.89 502.35L599.7 505.29L600.39 508.27L600.95 511.27L601.38 514.3L601.69 517.35" stroke-width="1.8" stroke-linejoin="round" />
<path d="M460.06 462.16L462.15 460.37L464.31 458.65L466.52 457.01L468.79 455.44L471.12 453.96L473.49 452.55L475.91 451.23L478.37 449.99L480.87 448.84L483.42 447.78L486 446.8L488.61 445.92L491.24 445.12L493.91 444.41L496.6 443.8L499.31 443.28L502.03 442.86L504.77 442.53L507.51 442.29L510.27 442.15L513.02 442.1L515.78 442.15L518.53 442.29L521.28 442.53L524.01 442.86L526.74 443.29L529.44 443.81L532.13 444.42L534.8 445.13L537.44 445.93L540.04 446.82L542.62 447.79L545.16 448.86L547.66 450.03L550.11 451.29L552.51 452.65L554.84 454.11L557.11 455.66L559.34 457.28L561.51 458.95L563.65 460.67L565.77 462.42L567.87 464.2L569.93 466.02L571.95 467.91L573.92 469.85L575.83 471.87L577.68 473.95L579.47 476.09L581.2 478.29L582.88 480.55L584.51 482.85L586.08 485.21L587.58 487.62L589.01 490.1L590.36 492.63L591.61 495.21L592.76 497.86L593.79 500.56L594.69 503.31L595.48 506.11L596.14 508.93L596.68 511.79L597.1 514.68L597.39 517.58" stroke-width="2.4" stroke-linejoin="round" />
<path d="M444.39 432.65L436.77 422.36" stroke-width="1.5" />
<path d="M460.49 422.13L454.76 410.69" stroke-width="1.5" />
<path d="M477.19 415.06L473.39 402.84" stroke-width="1.5" />
<path d="M497.03 410.68L495.49 397.97" stroke-width="1.5" />
<path d="M513.44 409.88L513.77 397.09" stroke-width="1.5" />
<path d="M531.23 409.03L533.04 399.2" stroke-width="1.5" />
<path d="M549.5 414.28L552.9 404.87" stroke-width="1.5" />
<path d="M566 422.28L570.87 413.54" stroke-width="1.5" />
<path d="M581.36 433.23L587.6 425.41" stroke-width="1.5" />
<g transform="translate(453.8 441.5) rotate(-33) scale(0.8 1)"><text x="0" y="5.5" font-size="15.5" font-weight="bold" text-anchor="middle" font-family='"Liberation Sans", sans-serif' stroke="#111" stroke-width="0.4" fill="#111" >30</text></g>
<g transform="translate(530 420) rotate(6) scale(0.8 1)"><text x="0" y="5.5" font-size="15.5" font-weight="bold" text-anchor="middle" font-family='"Liberation Sans", sans-serif' stroke="#111" stroke-width="0.4" fill="#111" >0</text></g>
<g transform="translate(588.5 448.5) rotate(57) scale(0.8 1)"><text x="0" y="5.5" font-size="15.5" font-weight="bold" text-anchor="middle" font-family='"Liberation Sans", sans-serif' stroke="#111" stroke-width="0.4" fill="#111" >90</text></g>
<path d="M607.21 417.2L610.69 420.53L614.07 423.98L617.32 427.54L620.46 431.2L623.47 434.97L626.34 438.84L629.09 442.81L631.7 446.87L634.17 451.01L636.5 455.23L638.69 459.53L640.73 463.9L642.62 468.34L644.36 472.84L645.94 477.39L647.37 482L648.65 486.65L649.77 491.34L650.72 496.07L651.52 500.83L652.15 505.61" stroke-width="2.6" stroke-linejoin="round" />
<path d="M604.49 420.14L607.88 423.38L611.16 426.73L614.33 430.19L617.37 433.75L620.3 437.42L623.1 441.18L625.76 445.03L628.3 448.97L630.7 453L632.97 457.1L635.09 461.28L637.08 465.53L638.91 469.84L640.6 474.22L642.14 478.64L643.54 483.12L644.77 487.64L645.86 492.2L646.79 496.8L647.56 501.42L648.18 506.07" stroke-width="1.8" stroke-linejoin="round" />
<path d="M601.92 422.93L605.21 426.08L608.4 429.34L611.48 432.7L614.44 436.17L617.29 439.73L620.01 443.39L622.6 447.14L625.07 450.98L627.41 454.89L629.61 458.88L631.68 462.95L633.6 467.08L635.39 471.27L637.04 475.53L638.54 479.83L639.89 484.19L641.09 488.59L642.15 493.02L643.05 497.49L643.81 501.99L644.41 506.51" stroke-width="1.8" stroke-linejoin="round" />
<path d="M594.18 431.31L597.2 434.19L600.12 437.18L602.94 440.26L605.65 443.43L608.26 446.69L610.75 450.04L613.12 453.47L615.38 456.98L617.52 460.57L619.54 464.22L621.43 467.94L623.19 471.72L624.83 475.56L626.33 479.46L627.71 483.4L628.95 487.39L630.05 491.41L631.01 495.47L631.84 499.56L632.53 503.68L633.08 507.82" stroke-width="2.2" stroke-linejoin="round" />
<path d="M593.44 432.12L608.02 416.32" stroke-width="2.3" />
<path d="M631.99 507.94L653.35 505.47" stroke-width="2.3" />
<path d="M595.37 441.46L602.84 434.37" stroke-width="1.5" />
<path d="M602.97 446.31L609.01 441.37" stroke-width="1.5" />
<path d="M606.34 454.89L614.78 448.98" stroke-width="1.5" />
<path d="M613.25 460.99L619.96 457.01" stroke-width="1.5" />
<path d="M615.3 469.98L624.52 465.4" stroke-width="1.5" />
<path d="M621.3 477.23L628.53 474.31" stroke-width="1.5" />
<path d="M621.96 486.43L631.77 483.3" stroke-width="1.5" />
<path d="M626.79 494.51L634.39 492.71" stroke-width="1.5" />
<path d="M527.5 515L640 515L640 522.5L517.5 522.5" stroke-width="2.6" />
<path d="M517.5 522.5L578.8 470" stroke-width="2.6" />
<path d="M550 515L572 510.5L598 501.5L572 508.3Z" stroke-width="1.6" fill="#111"/>
<path d="M566 514.3L601 506.5" stroke-width="1.6" />
<path d="M578.8 469.5L567.3 496.5L597 501.5Z" stroke-width="2.5" />
<circle cx="582.2" cy="487.2" r="7.8" stroke-width="2.4" fill="#fff"/>
<circle cx="582.2" cy="487.2" r="4.4" stroke-width="1.8" />
<circle cx="582.2" cy="487.2" r="1.6" stroke-width="1.5" fill="#111"/>
<path d="M520 524L520 650L529.2 650L529.2 539L520 524" stroke-width="2.4" />
<path d="M522.8 535L523.6 585" stroke-width="1.2" />
<path d="M566.87 476.47 A67.5 67.5 0 1 0 508.11 589.34" stroke-width="2.3" />
<path d="M585 522.5 A67.5 67.5 0 0 1 530.38 588.76" stroke-width="2.3" />
<path d="M555.27 486.03 A52.5 52.5 0 1 0 512.01 574.71" stroke-width="2.3" />
<path d="M565 476.3L549.5 469.5L553.5 463.5Z" stroke-width="1" fill="#111"/>
<path d="M555 485.5L538.5 478.5L542.5 472.5Z" stroke-width="1" fill="#111"/>
<path d="M520 591.3L500.5 592.5L501 585.5Z" stroke-width="1" fill="#111"/>
<path d="M521.5 577L502.5 577L503.5 570Z" stroke-width="1" fill="#111"/>
<g transform="translate(488.5 549) rotate(40) scale(0.8 1)"><text x="0" y="5.5" font-size="15.5" font-weight="bold" text-anchor="middle" font-family='"Liberation Sans", sans-serif' stroke="#111" stroke-width="0.4" fill="#111" >230°</text></g>
<g transform="translate(474 561) rotate(40) scale(0.8 1)"><text x="0" y="5.5" font-size="15.5" font-weight="bold" text-anchor="middle" font-family='"Liberation Sans", sans-serif' stroke="#111" stroke-width="0.4" fill="#111" >330°</text></g>
<path d="M599.49 523.93 A82 82 0 0 1 531.74 603.25" stroke-width="2.3" stroke-dasharray="5.5 3"/>
<path d="M639.3 540 A114.58 114.58 0 0 1 543 646.3" stroke-width="2.3" stroke-dasharray="5.5 3"/>
<path d="M639.5 524L636 541L643 541Z" stroke-width="1" fill="#111"/>
<path d="M530.5 647.5L542.5 642L543.5 649.5Z" stroke-width="1" fill="#111"/>
<g transform="translate(621 557) scale(0.8 1)"><text x="0" y="0" font-size="15.5" font-weight="bold" text-anchor="middle" font-family='"Liberation Sans", sans-serif' stroke="#111" stroke-width="0.4" fill="#111" >40°</text></g>
<g transform="translate(651.5 556.5) scale(0.8 1)"><text x="0" y="0" font-size="15.5" font-weight="bold" text-anchor="middle" font-family='"Liberation Sans", sans-serif' stroke="#111" stroke-width="0.4" fill="#111" >–130°</text></g>
<path d="M574 608.5L591.5 590.5L597.5 590.3L596.5 596.5L579 614.5Z" stroke-width="1.8" />
<path d="M574 608.5L566.5 610.5L572.5 614L569.5 620.5L579 614.5" stroke-width="1.8" />
<path d="M597 590.5L605 576" stroke-width="1.8" />
<path d="M577 611L594.5 593.5" stroke-width="1.3" />
<path d="M609.5 567L608.5 581L602.5 577.5Z" stroke-width="1" fill="#111"/>
</g>
<g id="cap">
<text x="111.2" y="335.7" font-size="16.4" textLength="190.5" lengthAdjust="spacingAndGlyphs" font-family='"Liberation Sans", sans-serif' fill="#2e2e2e" stroke="none">For 0-50° Exterior Angle</text>
<text x="447.3" y="335.7" font-size="16.4" textLength="210.4" lengthAdjust="spacingAndGlyphs" font-family='"Liberation Sans", sans-serif' fill="#2e2e2e" stroke="none">For 50-140° Exterior Angle</text>
<text x="100.7" y="685.7" font-size="16.4" textLength="190.3" lengthAdjust="spacingAndGlyphs" font-family='"Liberation Sans", sans-serif' fill="#2e2e2e" stroke="none">For 0-50° Exterior Angle</text>
<text x="100.7" y="707.3" font-size="16.4" textLength="182" lengthAdjust="spacingAndGlyphs" font-family='"Liberation Sans", sans-serif' fill="#2e2e2e" stroke="none">130-220°Interior Angle</text>
<text x="465.7" y="685.7" font-size="16.4" textLength="190.3" lengthAdjust="spacingAndGlyphs" font-family='"Liberation Sans", sans-serif' fill="#2e2e2e" stroke="none">For 0-50° Exterior Angle</text>
<text x="465" y="707.3" font-size="16.4" textLength="172.3" lengthAdjust="spacingAndGlyphs" font-family='"Liberation Sans", sans-serif' fill="#2e2e2e" stroke="none">40-130°Interior Angle</text>
</g>
</svg>
</body></html>
